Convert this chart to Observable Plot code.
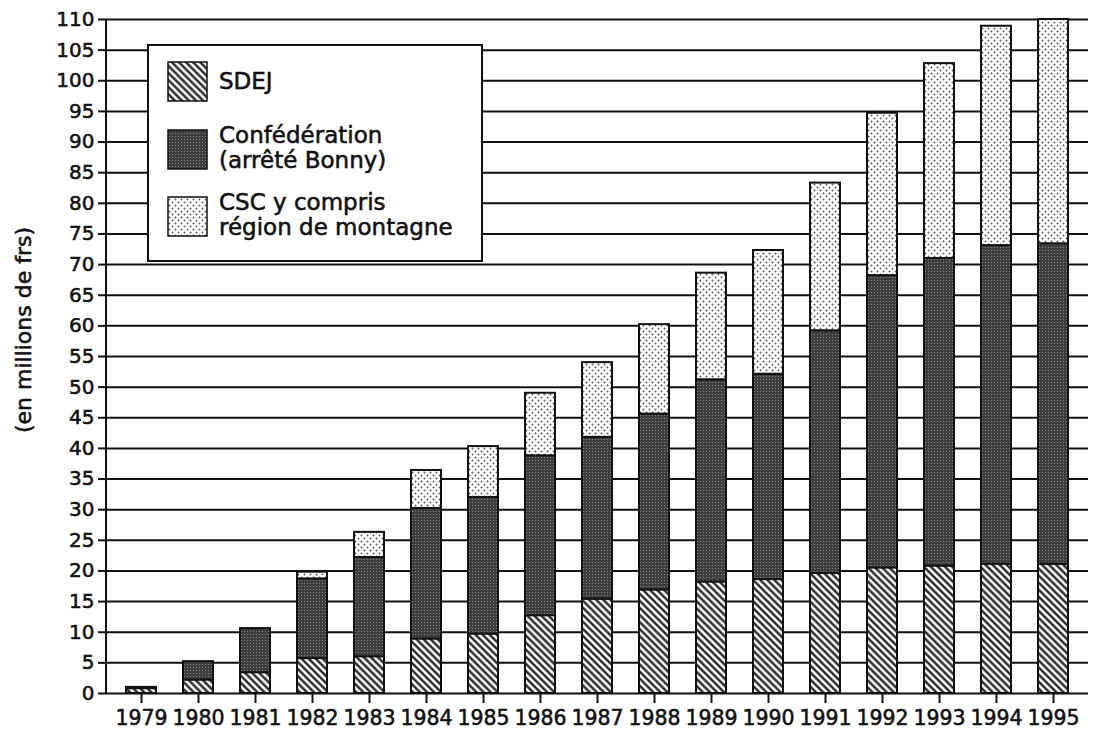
<!DOCTYPE html>
<html>
<head>
<meta charset="utf-8">
<script src="https://cdn.jsdelivr.net/npm/d3@7"></script>
<script src="https://cdn.jsdelivr.net/npm/@observablehq/plot@0.6"></script>
<style>
  html, body { margin: 0; padding: 0; background: #fff; }
  #chart { position: relative; width: 1110px; height: 733px; }
  #chart svg text { stroke: #111; stroke-width: 0.55px; }
</style>
</head>
<body>
<svg width="0" height="0" style="position:absolute">
  <defs>
    <pattern id="p-sdej" patternUnits="userSpaceOnUse" width="5" height="5" patternTransform="rotate(-45)">
      <rect width="5" height="5" fill="#ffffff"/>
      <line x1="2.5" y1="-1" x2="2.5" y2="6" stroke="#111" stroke-width="2.2"/>
    </pattern>
    <pattern id="p-conf" patternUnits="userSpaceOnUse" width="3" height="3">
      <rect width="3" height="3" fill="#3e3e3e"/>
      <rect x="1" y="1" width="1" height="1" fill="#858585"/>
    </pattern>
    <pattern id="p-csc" patternUnits="userSpaceOnUse" width="6" height="6">
      <rect width="6" height="6" fill="#ffffff"/>
      <circle cx="1.5" cy="1.5" r="0.95" fill="#555"/>
      <circle cx="4.5" cy="4.5" r="0.95" fill="#555"/>
    </pattern>
  </defs>
</svg>
<div id="chart"></div>
<script>
const years = [1979, 1980, 1981, 1982, 1983, 1984, 1985, 1986, 1987, 1988, 1989, 1990, 1991, 1992, 1993, 1994, 1995];
const sdej  = [0.8, 2.2, 3.4, 5.7, 6.0, 8.9, 9.7, 12.7, 15.4, 16.9, 18.2, 18.6, 19.6, 20.5, 20.8, 21.1, 21.1];
const conf  = [0.2, 3.0, 7.2, 13.0, 16.2, 21.3, 22.3, 26.1, 26.4, 28.7, 33.0, 33.5, 39.6, 47.7, 50.2, 52.0, 52.3];
const csc   = [0, 0, 0, 1.1, 4.1, 6.2, 8.3, 10.2, 12.2, 14.6, 17.4, 20.2, 24.1, 26.5, 31.8, 35.8, 36.6];
const seriesNames = ["SDEJ", "Confédération", "CSC"];
const seriesFills = ["url(#p-sdej)", "url(#p-conf)", "url(#p-csc)"];
const yTicks = d3.range(0, 111, 5);
const yLabel = "(en millions de frs)";
const legendLines = [["SDEJ"], ["Confédération", "(arrêté Bonny)"], ["CSC y compris", "région de montagne"]];

const data = years.flatMap((year, i) => [
  {year, series: seriesNames[0], value: sdej[i]},
  {year, series: seriesNames[1], value: conf[i]},
  {year, series: seriesNames[2], value: csc[i]}
]).filter(d => d.value > 0);

const font = "'DejaVu Sans', sans-serif";

const plot = Plot.plot({
  width: 1110,
  height: 733,
  marginLeft: 105,
  marginRight: 22,
  marginTop: 19,
  marginBottom: 40,
  style: {fontFamily: font, fontSize: "20px", color: "#111", background: "#fff"},
  x: {type: "band", domain: years, paddingInner: 0.48, paddingOuter: 0.24, label: null},
  y: {domain: [0, 110], label: null},
  color: {type: "ordinal", domain: seriesNames, range: seriesFills},
  marks: [
    Plot.ruleY(yTicks, {stroke: "#111", strokeWidth: 2}),
    Plot.barY(data, {x: "year", y: "value", fill: "series", stroke: "#111", strokeWidth: 2}),
    Plot.axisY(yTicks, {tickSize: 7, tickPadding: 4, strokeWidth: 2, label: null, fontSize: 20}),
    Plot.axisX({tickSize: 10, tickPadding: 7, strokeWidth: 2, label: null, fontSize: 20.5, tickFormat: d => String(d)})
  ]
});

document.getElementById("chart").appendChild(plot);

const svg = d3.select(plot);
const ys = plot.scale("y");
// vertical axis line
svg.append("line")
  .attr("x1", 106).attr("x2", 106)
  .attr("y1", ys.apply(0)).attr("y2", ys.apply(110))
  .attr("stroke", "#111").attr("stroke-width", 2);

// y label
svg.append("text")
  .attr("transform", "translate(25,330) rotate(-90)")
  .attr("text-anchor", "middle")
  .attr("dominant-baseline", "middle")
  .attr("font-family", font).attr("font-size", 22).attr("fill", "#111")
  .text(yLabel);

// legend
const lg = svg.append("g");
lg.append("rect").attr("x", 148).attr("y", 45).attr("width", 334).attr("height", 216)
  .attr("fill", "#fff").attr("stroke", "#111").attr("stroke-width", 2);
const swY = [62, 130, 197];
const textBase = [[89], [143, 168], [210, 235]];
seriesFills.forEach((f, i) => {
  lg.append("rect").attr("x", 168).attr("y", swY[i]).attr("width", 39).attr("height", 39)
    .attr("fill", f).attr("stroke", "#111").attr("stroke-width", 1.5);
  legendLines[i].forEach((t, j) => {
    lg.append("text").attr("x", 219).attr("y", textBase[i][j])
      .attr("text-anchor", "start")
      .attr("font-family", font).attr("font-size", 23).attr("fill", "#111")
      .text(t);
  });
});
</script>
</body>
</html>
